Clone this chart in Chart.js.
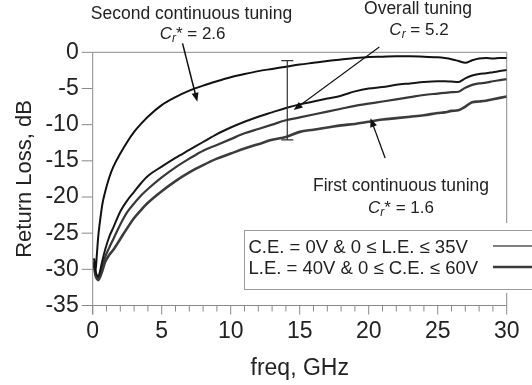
<!DOCTYPE html>
<html>
<head>
<meta charset="utf-8">
<script src="https://cdn.jsdelivr.net/npm/chart.js@4.4.1/dist/chart.umd.min.js"></script>
<style>
  html, body { margin: 0; padding: 0; background: #fff; }
</style>
</head>
<body>
<canvas id="returnLoss" width="532" height="385"></canvas>
<script>
// frequency points (GHz) shared by all traces
const freq = [0.1, 0.2, 0.3, 0.4, 0.5, 0.7, 0.9, 1.2, 1.5, 2, 2.5, 3, 3.5, 4, 5, 6, 7, 8, 9, 10,
  11, 12, 13, 14, 15, 16, 17, 18, 19, 20, 21, 22, 23, 24, 25, 25.5, 26, 26.5, 27, 27.5,
  28, 28.5, 29, 29.5, 30];

// return loss in dB
const secondTuning = [-28.5, -30.3, -28.0, -25.5, -23.8, -21.0, -19.3, -17.3, -15.8, -14.0, -12.4, -11.0, -9.9, -8.9, -7.3, -6.2, -5.3, -4.6, -4.0, -3.45,
  -3.0, -2.6, -2.3, -2.0, -1.7, -1.45, -1.2, -1.0, -0.8, -0.65, -0.6, -0.55, -0.55, -0.6, -0.7, -0.8, -0.95, -1.2, -1.45, -1.1,
  -0.85, -0.8, -0.85, -0.8, -0.8];
const overallUpper = [-29.0, -30.2, -30.8, -31.0, -30.5, -28.8, -27.3, -25.5, -24.2, -22.0, -20.5, -19.3, -18.1, -17.1, -15.8, -14.6, -13.5, -12.4, -11.3, -10.4,
  -9.6, -8.9, -8.3, -7.7, -7.2, -6.8, -6.4, -6.0, -5.4, -5.0, -4.8, -4.5, -4.3, -4.1, -4.0, -4.0, -4.05, -4.1, -3.6, -3.2,
  -3.0, -2.9, -2.75, -2.6, -2.45];
const overallLower = [-29.3, -30.5, -31.0, -31.2, -30.9, -29.6, -28.3, -27.0, -25.8, -23.8, -22.1, -20.9, -19.8, -18.9, -17.3, -15.9, -14.7, -13.6, -12.8, -12.0,
  -11.2, -10.6, -10.0, -9.4, -9.0, -8.6, -8.2, -7.8, -7.4, -7.1, -6.8, -6.5, -6.2, -5.9, -5.7, -5.6, -5.5, -5.45, -4.9, -4.5,
  -4.3, -4.2, -4.0, -3.85, -3.7];
const firstTuning = [-29.5, -30.8, -31.3, -31.5, -31.2, -30.2, -29.0, -28.0, -27.3, -25.8, -24.3, -22.9, -21.8, -20.8, -19.2, -17.8, -16.6, -15.6, -14.7, -14.0,
  -13.3, -12.7, -12.1, -11.7, -11.0, -10.7, -10.4, -10.1, -9.9, -9.6, -9.3, -9.1, -8.9, -8.7, -8.4, -8.3, -8.1, -8.0, -7.5, -6.9,
  -6.8, -6.7, -6.5, -6.3, -6.1];

// tuning range marker at 14 GHz
const errorFreq = [14.1];
const errorTop = [-1.15];
const errorBottom = [-12.1];

const legendLabels = ['C.E. = 0V & 0 \u2264 L.E. \u2264 35V', 'L.E. = 40V & 0 \u2264 C.E. \u2264 60V'];

const FONT = "'Liberation Sans', Arial, sans-serif";
const TEXT = '#222';

function toPoints(ys) {
  return freq.map((f, i) => ({ x: f, y: ys[i] }));
}

// draws "C_r* = 2.6" style labels, centered
function drawCr(ctx, cx, cy, star, value) {
  const parts = [
    { t: 'C', font: 'italic 17px ' + FONT, dy: 0 },
    { t: 'r', font: 'italic 12px ' + FONT, dy: 5 },
    { t: (star ? '* ' : ' ') + '= ' + value, font: '17px ' + FONT, dy: 0 }
  ];
  let w = 0;
  parts.forEach(p => { ctx.font = p.font; p.w = ctx.measureText(p.t).width; w += p.w; });
  let x = cx - w / 2;
  ctx.textAlign = 'left';
  ctx.textBaseline = 'middle';
  parts.forEach(p => {
    ctx.font = p.font;
    ctx.fillText(p.t, x, cy + p.dy);
    x += p.w;
  });
}

function drawArrow(ctx, x1, y1, x2, y2, lw) {
  const ang = Math.atan2(y2 - y1, x2 - x1);
  const hl = 9, hw = 3.5;
  ctx.lineWidth = lw;
  ctx.beginPath();
  ctx.moveTo(x1, y1);
  ctx.lineTo(x2 - Math.cos(ang) * hl * 0.8, y2 - Math.sin(ang) * hl * 0.8);
  ctx.stroke();
  ctx.beginPath();
  ctx.moveTo(x2, y2);
  ctx.lineTo(x2 - Math.cos(ang) * hl - Math.sin(ang) * hw, y2 - Math.sin(ang) * hl + Math.cos(ang) * hw);
  ctx.lineTo(x2 - Math.cos(ang) * hl + Math.sin(ang) * hw, y2 - Math.sin(ang) * hl - Math.cos(ang) * hw);
  ctx.closePath();
  ctx.fill();
}

const decor = {
  id: 'decor',
  beforeDatasetsDraw(chart) {
    const { ctx, chartArea: a, scales: { x, y } } = chart;
    ctx.save();
    ctx.strokeStyle = '#8a8a8a';
    ctx.lineWidth = 1;
    ctx.beginPath();
    ctx.moveTo(a.left, a.top); ctx.lineTo(a.right, a.top);
    ctx.moveTo(a.right, a.top); ctx.lineTo(a.right, a.bottom);
    ctx.moveTo(a.left, a.top); ctx.lineTo(a.left, a.bottom + 9);
    ctx.moveTo(a.left, a.bottom); ctx.lineTo(a.right, a.bottom);
    for (let v = 0; v >= -35; v -= 5) {
      const py = y.getPixelForValue(v);
      ctx.moveTo(a.left - 11, py); ctx.lineTo(a.left, py);
    }
    for (let v = 0; v <= 30; v++) {
      const px = x.getPixelForValue(v);
      ctx.moveTo(px, a.bottom); ctx.lineTo(px, a.bottom + (v % 5 === 0 ? 9 : 6));
    }
    ctx.stroke();
    ctx.restore();
  },
  afterDatasetsDraw(chart) {
    const { ctx, scales: { x, y } } = chart;
    ctx.save();

    // error bar
    ctx.strokeStyle = '#333';
    ctx.lineWidth = 1.2;
    errorFreq.forEach((f, i) => {
      const px = x.getPixelForValue(f);
      const t = y.getPixelForValue(errorTop[i]);
      const b = y.getPixelForValue(errorBottom[i]);
      ctx.beginPath();
      ctx.moveTo(px, t); ctx.lineTo(px, b);
      ctx.moveTo(px - 6, t); ctx.lineTo(px + 6, t);
      ctx.moveTo(px - 6, b); ctx.lineTo(px + 6, b);
      ctx.stroke();
    });

    // arrows (data coordinates)
    ctx.strokeStyle = '#111';
    ctx.fillStyle = '#111';
    const px = x.getPixelForValue.bind(x), py = y.getPixelForValue.bind(y);
    drawArrow(ctx, px(6.51), py(1.24), px(7.58), py(-6.83), 1.5);
    drawArrow(ctx, px(20.77), py(0.73), px(14.56), py(-7.98), 1.1);
    drawArrow(ctx, px(21.19), py(-14.6), px(20.13), py(-9.1), 1.3);

    // annotation text
    ctx.fillStyle = TEXT;
    ctx.textAlign = 'center';
    ctx.textBaseline = 'middle';
    ctx.font = '17.5px ' + FONT;
    ctx.fillText('Second continuous tuning', 191.5, 14);
    ctx.fillText('Overall tuning', 418, 9);
    ctx.fillText('First continuous tuning', 401, 186);
    drawCr(ctx, 192.6, 34, true, '2.6');
    drawCr(ctx, 419, 30, false, '5.2');
    drawCr(ctx, 401, 208, true, '1.6');

    // legend box
    ctx.fillStyle = '#fff';
    ctx.fillRect(244, 223, 300, 70);
    ctx.strokeStyle = '#9a9a9a';
    ctx.lineWidth = 1;
    ctx.strokeRect(244.5, 230.5, 300, 59);
    ctx.fillStyle = TEXT;
    ctx.textAlign = 'left';
    ctx.font = '18.5px ' + FONT;
    ctx.fillText(legendLabels[0], 248.5, 247.5);
    ctx.fillText(legendLabels[1], 248.5, 269);
    ctx.strokeStyle = '#555';
    ctx.lineWidth = 1.5;
    ctx.beginPath(); ctx.moveTo(493, 246); ctx.lineTo(532, 246); ctx.stroke();
    ctx.strokeStyle = '#3a3a3a';
    ctx.lineWidth = 2.6;
    ctx.beginPath(); ctx.moveTo(493, 267); ctx.lineTo(532, 267); ctx.stroke();

    ctx.restore();
  }
};

Chart.defaults.font.family = FONT;
Chart.defaults.color = TEXT;

new Chart(document.getElementById('returnLoss').getContext('2d'), {
  type: 'line',
  data: {
    datasets: [
      { label: 'Second continuous tuning', data: toPoints(secondTuning), borderColor: '#111', borderWidth: 2 },
      { label: 'Overall tuning upper', data: toPoints(overallUpper), borderColor: '#161616', borderWidth: 2 },
      { label: 'Overall tuning lower', data: toPoints(overallLower), borderColor: '#383838', borderWidth: 2.2 },
      { label: 'First continuous tuning', data: toPoints(firstTuning), borderColor: '#3c3c3c', borderWidth: 2.6 }
    ]
  },
  options: {
    responsive: false,
    animation: false,
    parsing: false,
    elements: {
      point: { radius: 0 },
      line: { cubicInterpolationMode: 'monotone', fill: false }
    },
    layout: { padding: { top: 52.3, right: 14.3, left: 0, bottom: 0 } },
    plugins: {
      legend: { display: false },
      tooltip: { enabled: false }
    },
    scales: {
      x: {
        type: 'linear',
        min: 0,
        max: 30,
        border: { display: false },
        grid: { display: false, drawTicks: false },
        ticks: { stepSize: 5, padding: 12.5, font: { size: 23 }, color: TEXT, maxRotation: 0 },
        title: { display: true, text: 'freq, GHz', font: { size: 23 }, color: TEXT, padding: { top: 0, bottom: 3 } },
        afterFit: scale => { scale.height = 79.5; }
      },
      y: {
        min: -35,
        max: 0,
        border: { display: false },
        grid: { display: false, drawTicks: false },
        ticks: { stepSize: 5, padding: 14, font: { size: 23 }, color: TEXT },
        title: { display: true, text: 'Return Loss, dB', font: { size: 22 }, color: TEXT, padding: { top: 12, bottom: 0 } },
        afterFit: scale => { scale.width = 92.7; }
      }
    }
  },
  plugins: [decor]
});
</script>
</body>
</html>
